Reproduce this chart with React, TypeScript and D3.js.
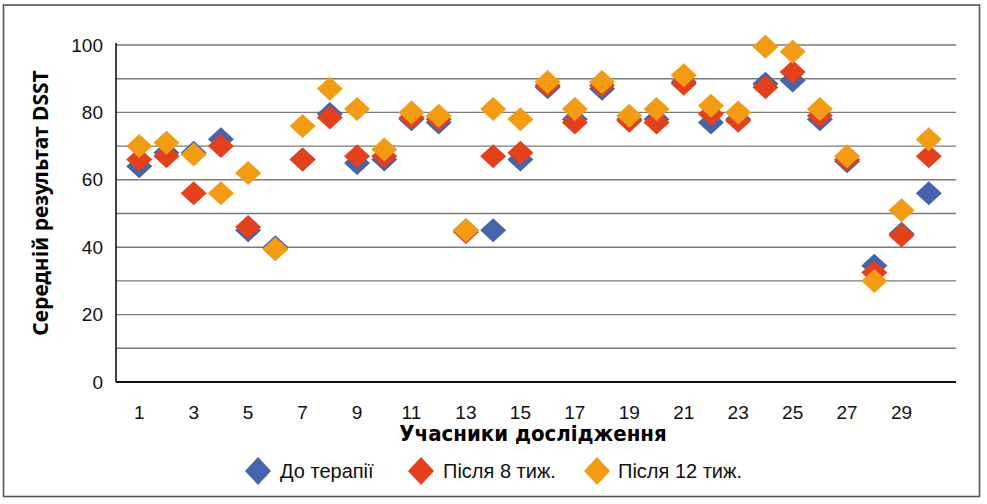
import React, { useEffect, useRef } from "react";
import * as d3 from "d3";

// DSST score per participant at three time points
const participants = d3.range(1, 31);
const beforeTherapy = [64, 68, 68, 72, 45, 40, 66, 79.5, 65, 66, 78, 77, 45, 45, 66, 87.5, 78, 87, 78, 78, 89, 77, 78, 88.5, 89.5, 78, 65.5, 34.5, 44, 56];
const after8Weeks = [66, 67, 56, 70, 46, 39.5, 66, 78.5, 67, 67, 78.5, 78, 44.5, 67, 68, 88, 77, 88, 77.5, 77, 88.5, 79.5, 77.5, 87.5, 92, 79, 66, 32.5, 43.5, 67];
const after12Weeks = [70, 71, 67.5, 56, 62, 39.5, 76, 87, 81, 69, 80, 79, 45, 81, 78, 89, 81, 89, 79, 81, 91, 82, 80, 99.5, 98, 81, 67, 30, 51, 72];

const seriesNames = ["До терапії", "Після 8 тиж.", "Після 12 тиж."];
const seriesColors = ["#4564ae", "#e3401b", "#f39c12"];
const seriesValues = [beforeTherapy, after8Weeks, after12Weeks];

const xTicks = d3.range(1, 30, 2);
const yTicks = [0, 20, 40, 60, 80, 100];
const yGrid = d3.range(10, 101, 10);

const WIDTH = 987;
const HEIGHT = 504;
const TEXT_FONT = "'Liberation Sans', Arial, sans-serif";
const TITLE_FONT = "'DejaVu Sans Condensed', 'DejaVu Sans', sans-serif";

const diamond = (hw: number, hh: number) => `M0,${-hh}L${hw},0L0,${hh}L${-hw},0Z`;

export default function App() {
  const svgRef = useRef<SVGSVGElement | null>(null);

  useEffect(() => {
    const svg = d3.select(svgRef.current);
    svg.selectAll("*").remove();

    const plotLeft = 116;
    const plotRight = 956;
    const x = d3.scaleLinear().domain([0, 31]).range([112, plotRight]);
    const y = d3.scaleLinear().domain([0, 100]).range([382, 45]);

    // outer frame
    svg
      .append("rect")
      .attr("x", 3.5)
      .attr("y", 5)
      .attr("width", 976)
      .attr("height", 491.5)
      .attr("fill", "#fff")
      .attr("stroke", "#555")
      .attr("stroke-width", 1.6);

    // horizontal gridlines
    svg
      .append("g")
      .selectAll("line")
      .data(yGrid)
      .join("line")
      .attr("x1", plotLeft)
      .attr("x2", plotRight)
      .attr("y1", (d) => y(d))
      .attr("y2", (d) => y(d))
      .attr("stroke", "#7a7a7a")
      .attr("stroke-width", 1.4);

    // axes lines
    svg
      .append("line")
      .attr("x1", plotLeft)
      .attr("x2", plotLeft)
      .attr("y1", y(100) - 2)
      .attr("y2", y(0))
      .attr("stroke", "#111")
      .attr("stroke-width", 1.6);
    svg
      .append("line")
      .attr("x1", plotLeft)
      .attr("x2", plotRight)
      .attr("y1", y(0))
      .attr("y2", y(0))
      .attr("stroke", "#111")
      .attr("stroke-width", 2);

    // y tick labels
    svg
      .append("g")
      .selectAll("text")
      .data(yTicks)
      .join("text")
      .attr("x", 103)
      .attr("y", (d) => y(d))
      .attr("dy", "0.35em")
      .attr("text-anchor", "end")
      .attr("font-family", TEXT_FONT)
      .attr("font-size", 19)
      .attr("fill", "#111")
      .text((d) => d);

    // x tick labels
    svg
      .append("g")
      .selectAll("text")
      .data(xTicks)
      .join("text")
      .attr("x", (d) => x(d))
      .attr("y", 419)
      .attr("text-anchor", "middle")
      .attr("font-family", TEXT_FONT)
      .attr("font-size", 19)
      .attr("fill", "#111")
      .text((d) => d);

    // axis titles
    svg
      .append("text")
      .attr("x", 533)
      .attr("y", 441)
      .attr("text-anchor", "middle")
      .attr("font-family", TITLE_FONT)
      .attr("font-weight", "bold")
      .attr("font-size", 22)
      .attr("fill", "#000")
      .text("Учасники дослідження");

    svg
      .append("text")
      .attr("transform", `translate(48,203) rotate(-90)`)
      .attr("text-anchor", "middle")
      .attr("font-family", "'Noto Sans', sans-serif")
      .attr("font-weight", "bold")
      .attr("font-size", 21)
      .attr("fill", "#000")
      .text("Середній результат DSST");

    // markers: one layer per series, later series drawn on top
    seriesValues.forEach((values, si) => {
      svg
        .append("g")
        .selectAll("path")
        .data(values)
        .join("path")
        .attr("d", diamond(13, 12))
        .attr("transform", (d, i) => `translate(${x(participants[i])},${y(d)})`)
        .attr("fill", seriesColors[si]);
    });

    // legend
    const legendItems = [
      { mx: 258, tx: 280 },
      { mx: 421, tx: 443 },
      { mx: 597, tx: 618 },
    ];
    const legend = svg.append("g");
    legendItems.forEach((item, si) => {
      legend
        .append("path")
        .attr("d", diamond(13, 14))
        .attr("transform", `translate(${item.mx},471)`)
        .attr("fill", seriesColors[si]);
      legend
        .append("text")
        .attr("x", item.tx)
        .attr("y", 471)
        .attr("dy", "0.35em")
        .attr("font-family", TEXT_FONT)
        .attr("font-size", 20)
        .attr("fill", "#111")
        .text(seriesNames[si]);
    });
  }, []);

  return (
    <svg
      ref={svgRef}
      width={WIDTH}
      height={HEIGHT}
      style={{ position: "absolute", left: 0, top: 0, background: "#fff" }}
    />
  );
}
